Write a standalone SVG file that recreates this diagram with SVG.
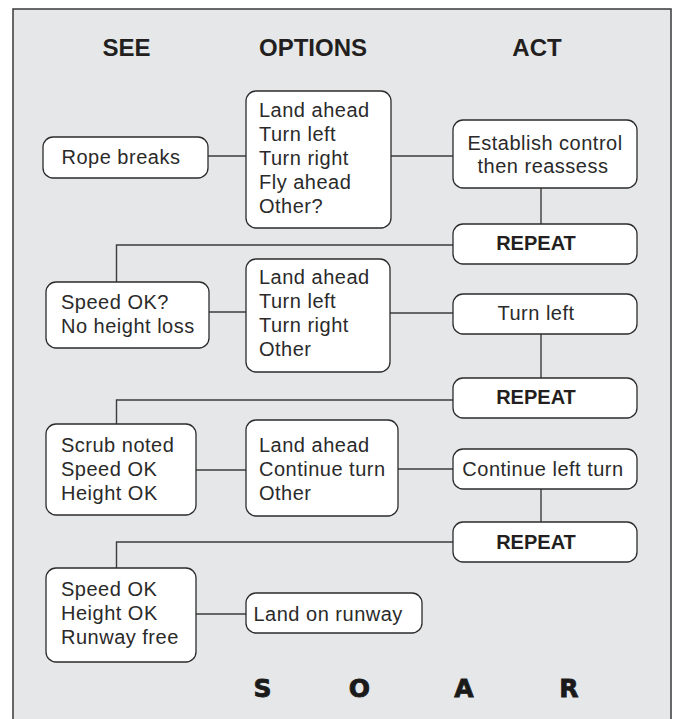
<svg xmlns="http://www.w3.org/2000/svg" width="682" height="719" viewBox="0 0 682 719">
<style>
.box{fill:#ffffff;stroke:#2b2b2b;stroke-width:1.3}
.ln{fill:none;stroke:#3c3c3c;stroke-width:1.4}
.t{font-family:"Liberation Sans",Arial,sans-serif;font-size:20px;fill:#2a2a2a;letter-spacing:0.5px}
.c{text-anchor:middle}
.b{font-family:"Liberation Sans",Arial,sans-serif;font-size:20px;font-weight:bold;fill:#231f20;text-anchor:middle}
.h{font-family:"Liberation Sans",Arial,sans-serif;font-size:24px;font-weight:bold;fill:#231f20;text-anchor:middle}
.s{font-family:"DejaVu Sans",sans-serif;font-size:25px;font-weight:bold;fill:#1a1a1a;stroke:#1a1a1a;stroke-width:0.8;text-anchor:middle}
</style>
<rect x="0" y="0" width="682" height="719" fill="#ffffff"/>
<rect x="13" y="9" width="658" height="730" fill="#e6e7e8" stroke="#3a3a3a" stroke-width="1.5"/>
<g id="headers">
<text class="h" x="126.5" y="56">SEE</text>
<text class="h" x="313" y="56">OPTIONS</text>
<text class="h" x="537" y="56">ACT</text>
</g>
<g id="connectors">
<line class="ln" x1="208" y1="156" x2="246" y2="156"/>
<line class="ln" x1="391" y1="156" x2="453" y2="156"/>
<line class="ln" x1="541" y1="188" x2="541" y2="224"/>
<polyline class="ln" points="453,245 116.5,245 116.5,282"/>
<line class="ln" x1="209" y1="312" x2="246" y2="312"/>
<line class="ln" x1="390" y1="313" x2="453" y2="313"/>
<line class="ln" x1="541" y1="334" x2="541" y2="378"/>
<polyline class="ln" points="453,400 116.5,400 116.5,424"/>
<line class="ln" x1="196" y1="470" x2="246" y2="470"/>
<line class="ln" x1="398" y1="469" x2="453" y2="469"/>
<line class="ln" x1="541" y1="489" x2="541" y2="522"/>
<polyline class="ln" points="453,542 116.5,542 116.5,568"/>
<line class="ln" x1="196" y1="614" x2="246" y2="614"/>
</g>
<g id="rope">
<rect class="box" x="43" y="137" width="165" height="41" rx="10"/>
<text class="t" x="61.5" y="164">Rope breaks</text>
</g>
<g id="options1">
<rect class="box" x="246" y="91" width="145" height="137" rx="10"/>
<text class="t" x="259"><tspan x="259" y="117">Land ahead</tspan><tspan x="259" y="141">Turn left</tspan><tspan x="259" y="165">Turn right</tspan><tspan x="259" y="189">Fly ahead</tspan><tspan x="259" y="213">Other?</tspan></text>
</g>
<g id="establish">
<rect class="box" x="453" y="120" width="184" height="68" rx="10"/>
<text class="t c"><tspan x="545" y="150">Establish control</tspan><tspan x="543" y="173">then reassess</tspan></text>
</g>
<g id="repeat1">
<rect class="box" x="453" y="224" width="184" height="40" rx="10"/>
<text class="b" x="536" y="250">REPEAT</text>
</g>
<g id="speed1">
<rect class="box" x="46" y="282" width="163" height="66" rx="10"/>
<text class="t"><tspan x="61" y="309">Speed OK?</tspan><tspan x="61" y="333">No height loss</tspan></text>
</g>
<g id="options2">
<rect class="box" x="246" y="259" width="144" height="113" rx="10"/>
<text class="t"><tspan x="259" y="284">Land ahead</tspan><tspan x="259" y="308">Turn left</tspan><tspan x="259" y="332">Turn right</tspan><tspan x="259" y="356">Other</tspan></text>
</g>
<g id="turnleft">
<rect class="box" x="453" y="294" width="184" height="40" rx="10"/>
<text class="t c" x="536" y="320">Turn left</text>
</g>
<g id="repeat2">
<rect class="box" x="453" y="378" width="184" height="40" rx="10"/>
<text class="b" x="536" y="404">REPEAT</text>
</g>
<g id="scrub">
<rect class="box" x="46" y="424" width="150" height="91" rx="10"/>
<text class="t"><tspan x="61" y="452">Scrub noted</tspan><tspan x="61" y="476">Speed OK</tspan><tspan x="61" y="500">Height OK</tspan></text>
</g>
<g id="options3">
<rect class="box" x="246" y="420" width="152" height="96" rx="10"/>
<text class="t"><tspan x="259" y="452">Land ahead</tspan><tspan x="259" y="476">Continue turn</tspan><tspan x="259" y="500">Other</tspan></text>
</g>
<g id="continue">
<rect class="box" x="453" y="449" width="184" height="40" rx="10"/>
<text class="t c" x="543" y="476">Continue left turn</text>
</g>
<g id="repeat3">
<rect class="box" x="453" y="522" width="184" height="40" rx="10"/>
<text class="b" x="536" y="549">REPEAT</text>
</g>
<g id="final">
<rect class="box" x="46" y="568" width="150" height="94" rx="10"/>
<text class="t"><tspan x="61" y="596">Speed OK</tspan><tspan x="61" y="620">Height OK</tspan><tspan x="61" y="644">Runway free</tspan></text>
</g>
<g id="land">
<rect class="box" x="246" y="593" width="176" height="40" rx="10"/>
<text class="t" x="253.5" y="621">Land on runway</text>
</g>
<g id="soar">
<text class="s" x="262.5" y="697">S</text>
<text class="s" x="359.5" y="697">O</text>
<text class="s" x="464" y="697">A</text>
<text class="s" x="569" y="697">R</text>
</g>
</svg>
